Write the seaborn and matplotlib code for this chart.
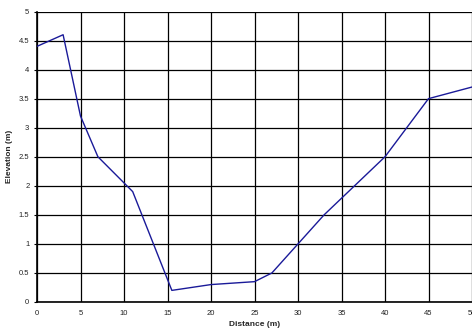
import matplotlib
matplotlib.use("Agg")
import matplotlib.pyplot as plt
import seaborn as sns
import pandas as pd
import numpy as np

distance = [0, 3, 5, 7, 11, 15.5, 20, 25, 27, 33, 40, 45, 50]
elevation = [4.4, 4.6, 3.2, 2.5, 1.9, 0.2, 0.3, 0.35, 0.5, 1.5, 2.5, 3.5, 3.7]
x_ticks = [0, 5, 10, 15, 20, 25, 30, 35, 40, 45, 50]
y_ticks = [0, 0.5, 1, 1.5, 2, 2.5, 3, 3.5, 4, 4.5, 5]
y_tick_labels = ["0", "0.5", "1", "1.5", "2", "2.5", "3", "3.5", "4", "4.5", "5"]

sns.set_style("white")
plt.rcParams['font.family'] = ['Liberation Sans', 'DejaVu Sans']

df = pd.DataFrame({"Distance": distance, "Elevation": elevation})

fig = plt.figure(figsize=(4.72, 3.35), dpi=100)
ax = fig.add_axes([37/472, 1 - 302/335, 1 - 37/472, (302 - 11.5)/335])

sns.lineplot(data=df, x="Distance", y="Elevation", sort=False, ax=ax,
             color="#1a1a99", linewidth=1.0, zorder=3)

ax.set_xlim(0, 50)
ax.set_ylim(0, 5)
ax.set_xticks(x_ticks)
ax.set_xticklabels([str(t) for t in x_ticks])
ax.set_yticks(y_ticks)
ax.set_yticklabels(y_tick_labels)
ax.grid(True, color="black", linewidth=0.9, zorder=1)
ax.set_axisbelow(True)
for s in ax.spines.values():
    s.set_visible(False)
ax.spines['left'].set_visible(True)
ax.spines['left'].set_color('black')
ax.spines['left'].set_linewidth(1.2)
ax.spines['bottom'].set_visible(True)
ax.spines['bottom'].set_color('black')
ax.spines['bottom'].set_linewidth(1.2)

ax.tick_params(axis='both', labelsize=5.5, length=2.5, width=0.8, color='black',
               pad=3, labelcolor='#222222')
ax.tick_params(axis='x', bottom=False)
ax.tick_params(axis='y', left=True)

ax.set_xlabel("Distance (m)", fontsize=6, fontweight='bold', labelpad=3)
ax.set_ylabel("Elevation (m)", fontsize=6, fontweight='bold', labelpad=4)

fig.savefig("out.png", dpi=100)
